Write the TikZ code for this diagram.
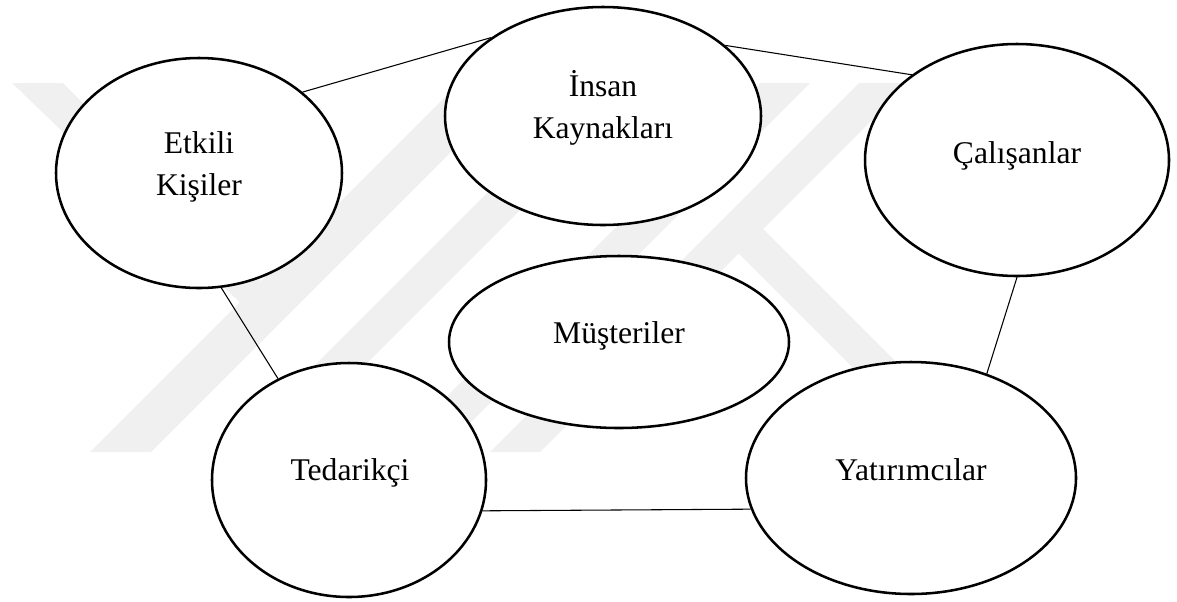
\documentclass[tikz,border=0pt]{standalone}
\usepackage{fontspec}
\setmainfont{Liberation Serif}
\usetikzlibrary{shapes.geometric}

\tikzset{
  oval/.style 2 args={ellipse, draw=black, fill=white, line width=1.9pt,
    inner sep=0pt, minimum width=#1*1.5pt, minimum height=#2*1.5pt},
  label text/.style={anchor=base, align=center, inner sep=0pt,
    font=\fontsize{23.7pt}{31.1pt}\selectfont},
  link/.style={draw=black, line width=0.8pt},
  mark band/.style={fill=black!6, draw=none}
}

\begin{document}
\begin{tikzpicture}[x=0.75pt, y=-0.75pt]
  \useasboundingbox (0,0) rectangle (1177,601);

  % faint background emblem
  \fill[mark band] (12,83) -- (63,83) -- (283,303) -- (255,317) -- cycle;
  \fill[mark band] (90,452) -- (151,452) -- (520,83) -- (459,83) -- cycle;
  \fill[mark band] (228,452) -- (278,452) -- (647,83) -- (597,83) -- cycle;
  \fill[mark band] (391,452) -- (441,452) -- (810,83) -- (760,83) -- cycle;
  \fill[mark band] (490,452) -- (540,452) -- (909,83) -- (859,83) -- cycle;
  \fill[mark band] (750.5,216.5) -- (726,241) -- (892.5,407.5) -- (917,383) -- cycle;

  % the six groups
  \node[oval={143}{115}] (etk) at (199,173) {};
  \node[oval={158}{109}] (ins) at (603,116) {};
  \node[oval={152}{116}] (cal) at (1017,160) {};
  \node[oval={170}{86}]  (mus) at (619,342) {};
  \node[oval={137}{117}] (ted) at (349,480) {};
  \node[oval={165}{116}] (yat) at (911,478) {};

  % captions (base anchor sits on the last line)
  \node[label text] (etk-t) at (199,195) {Etkili\\Kişiler};
  \node[label text] (ins-t) at (603,138) {İnsan\\Kaynakları};
  \node[label text] (cal-t) at (1017,163) {Çalışanlar};
  \node[label text] (mus-t) at (619,343) {Müşteriler};
  \node[label text] (ted-t) at (350,480) {Tedarikçi};
  \node[label text] (yat-t) at (911,480) {Yatırımcılar};

  % ring of links
  \draw[link] (etk.38.7) -- (ins.145.6);
  \draw[link] (ins.30.3) -- (cal.141.9);
  \draw[link] (cal.-90) -- (yat.54.5);
  \draw[link] (ted.-13.2) -- (yat.191.8);
  \draw[link] (etk.-79.8) -- (ted.125.6);
\end{tikzpicture}
\end{document}
